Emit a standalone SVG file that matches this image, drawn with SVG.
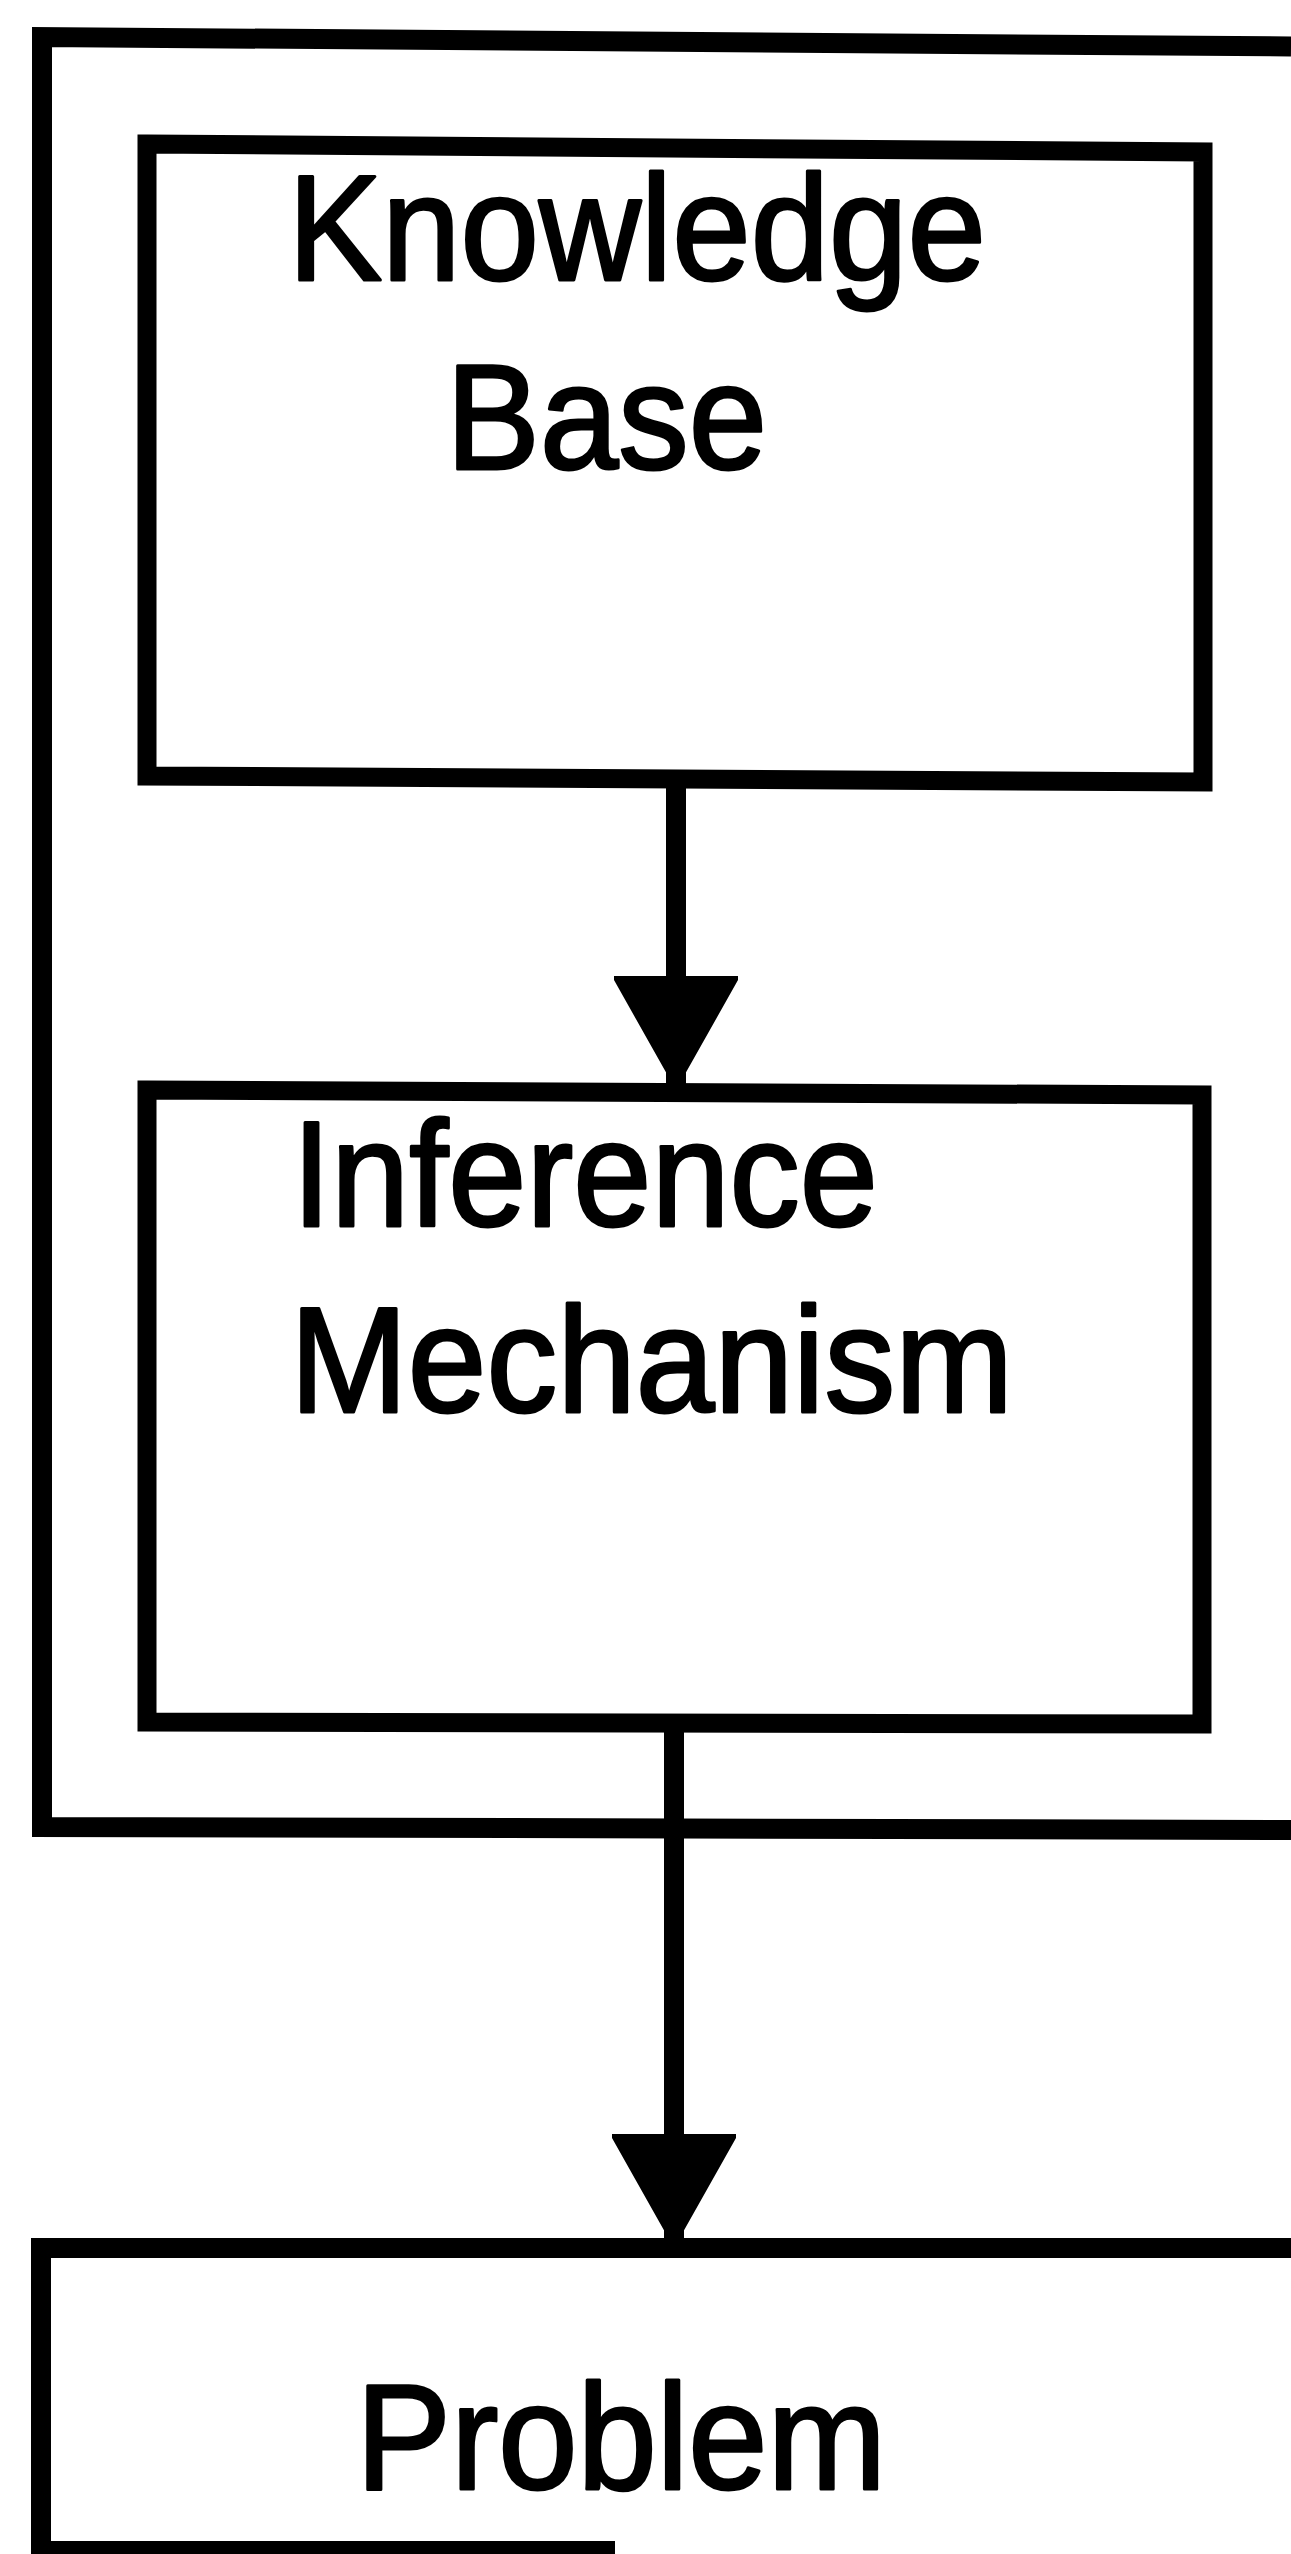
<svg xmlns="http://www.w3.org/2000/svg" width="1291" height="2554" viewBox="0 0 1291 2554">
  <style>
    .frame { fill: none; stroke: #000; stroke-width: 20; stroke-linejoin: miter; }
    .box { fill: none; stroke: #000; stroke-width: 19; stroke-linejoin: miter; }
    .conn { fill: none; stroke: #000; stroke-width: 20; }
    .label { font-family: "Liberation Sans", Arial, Helvetica, sans-serif; font-size: 150px; fill: #000; stroke: #000; stroke-width: 3; stroke-linejoin: round; }
  </style>
  <defs>
    <marker id="arrow" viewBox="0 0 110 124" refX="108" refY="62" markerWidth="110" markerHeight="124" markerUnits="userSpaceOnUse" orient="auto">
      <path d="M0,0 L110,62 L0,124 Z" fill="#000" stroke="#000" stroke-width="4" stroke-linejoin="round"/>
    </marker>
  </defs>
  <rect width="1291" height="2554" fill="#fff"/>

  <g id="expert-system-frame">
    <path class="frame" d="M1291,46.5 L42,37 L42,1827 L1291,1830"/>
  </g>

  <g id="knowledge-base">
    <path class="box" d="M147,144 L1203,152 L1203,782 L147,776 Z"/>
    <text class="label" x="288" y="280" textLength="698" lengthAdjust="spacingAndGlyphs">Knowledge</text>
    <text class="label" x="446" y="469" textLength="321" lengthAdjust="spacingAndGlyphs">Base</text>
  </g>

  <g id="inference-mechanism">
    <path class="box" d="M147,1090 L1202,1095 L1202,1724 L147,1722 Z"/>
    <text class="label" x="292" y="1226" textLength="586" lengthAdjust="spacingAndGlyphs">Inference</text>
    <text class="label" x="290" y="1412" textLength="723" lengthAdjust="spacingAndGlyphs">Mechanism</text>
  </g>

  <g id="problem">
    <path class="frame" d="M1291,2248 L41,2248 L41,2554"/>
    <path class="frame" d="M41,2551 L615,2551" stroke-width="8"/>
    <text class="label" x="356" y="2489" textLength="530" lengthAdjust="spacingAndGlyphs">Problem</text>
  </g>

  <g id="connectors">
    <path class="conn" d="M676,786 L676,1084" marker-end="url(#arrow)"/>
    <path class="conn" d="M674,1728 L674,2242" marker-end="url(#arrow)"/>
  </g>
</svg>
